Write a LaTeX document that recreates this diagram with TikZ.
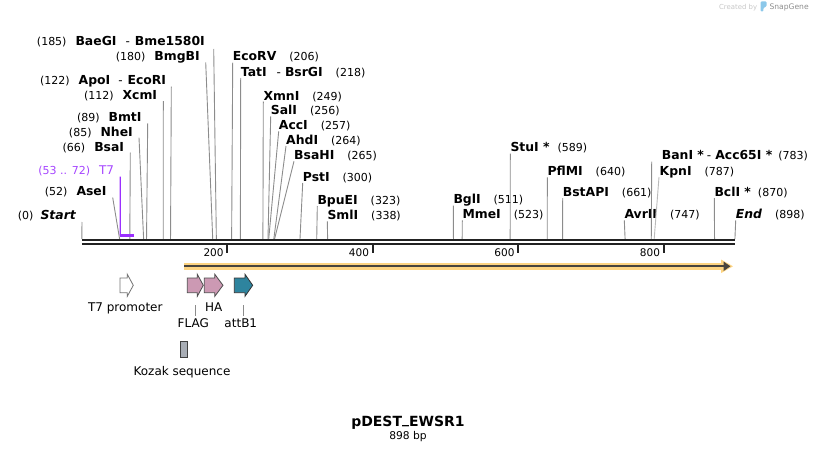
\documentclass[tikz,border=0pt]{standalone}
\usepackage{fontspec}
\setmainfont{DejaVu Sans}[ItalicFont={DejaVu Sans Oblique},BoldFont={DejaVu Sans Bold},BoldItalicFont={DejaVu Sans Bold Oblique}]
\usetikzlibrary{arrows.meta}
\definecolor{siteline}{RGB}{140,140,140}
\definecolor{bbone}{RGB}{34,34,34}
\definecolor{tseven}{RGB}{155,48,255}
\definecolor{orfband}{RGB}{253,212,130}
\definecolor{orfline}{RGB}{72,68,62}
\definecolor{flagpink}{RGB}{204,153,179}
\definecolor{attteal}{RGB}{46,132,158}
\definecolor{kozakgray}{RGB}{168,173,181}
\definecolor{snapblue}{RGB}{140,200,234}
\newcommand{\bpnum}[1]{{\fontsize{11}{13}\selectfont(#1)}}
\newcommand{\enz}[1]{{\fontsize{12.4}{14}\selectfont\bfseries #1}}

\begin{document}
\begin{tikzpicture}[x=1pt,y=-1pt,
    lbl/.style={inner sep=0pt,font=\fontsize{12}{14}\selectfont},
    lblL/.style={lbl,anchor=base east},
    lblR/.style={lbl,anchor=base west},
    cut/.style={draw=siteline,line width=0.9pt},
    bbl/.style={draw=bbone,line width=2.2pt},
    tick/.style={draw=bbone,line width=2pt},
    feat/.style={draw=black!70,line width=0.8pt}]
    \useasboundingbox (0,0) rectangle (818,452);
    % 酶切位点
    \foreach \p in {0,52,53,66,72,85,89,112,122,180,185,206,218,249,256,257,264,265,300,323,338,511,523,589,640,661,747,783,787,870,898}
        \coordinate (s\p) at ({81.8+0.7273*\p},239);
    % 左侧标签
    \node[lblL] (start) at (76,219) {\bpnum{0}\hspace{7pt}\enz{\itshape Start}};
    \draw[cut] ([shift={(6,3)}]start.base east) -- (s0);
    \node[lblL] (aseI) at (106.7,195.7) {\bpnum{52}\hspace{9pt}\enz{AseI}};
    \draw[cut] ([shift={(6,1.8)}]aseI.base east) -- (s52);
    \node[lblL] (bsaI) at (124.3,151) {\bpnum{66}\hspace{9pt}\enz{BsaI}};
    \draw[cut] ([shift={(6,1.7)}]bsaI.base east) -- (s66);
    \node[lblL] (nheI) at (133,136) {\bpnum{85}\hspace{9pt}\enz{NheI}};
    \draw[cut] ([shift={(6,1.7)}]nheI.base east) -- (s85);
    \node[lblL] (bmtI) at (141.7,121.3) {\bpnum{89}\hspace{9pt}\enz{BmtI}};
    \draw[cut] ([shift={(6,2)}]bmtI.base east) -- (s89);
    \node[lblL] (xcmI) at (157.3,99) {\bpnum{112}\hspace{9pt}\enz{XcmI}};
    \draw[cut] ([shift={(6,2)}]xcmI.base east) -- (s112);
    \node[lblL] (apoI) at (166.3,84) {\bpnum{122}\hspace{9pt}\enz{ApoI}\hspace{8pt}-\hspace{5pt}\enz{EcoRI}};
    \draw[cut] ([shift={(5,2.7)}]apoI.base east) -- (s122);
    \node[lblL] (bmgBI) at (200,60.7) {\bpnum{180}\hspace{9pt}\enz{BmgBI}};
    \draw[cut] ([shift={(5.7,1.6)}]bmgBI.base east) -- (s180);
    \node[lblL] (baeGI) at (205,45.7) {\bpnum{185}\hspace{9pt}\enz{BaeGI}\hspace{9pt}-\hspace{5pt}\enz{Bme1580I}};
    \draw[cut] ([shift={(8.7,3.3)}]baeGI.base east) -- (s185);
    % 右侧标签
    \node[lblR] (ecoRV) at (232.7,60.7) {\enz{EcoRV}\hspace{13pt}\bpnum{206}};
    \draw[cut] ([shift={(0,2)}]ecoRV.base west) -- (s206);
    \node[lblR] (tatI) at (240.7,76) {\enz{TatI}\hspace{10pt}-\hspace{4pt}\enz{BsrGI}\hspace{13pt}\bpnum{218}};
    \draw[cut] ([shift={(0,2)}]tatI.base west) -- (s218);
    \node[lblR] (xmnI) at (263.3,100) {\enz{XmnI}\hspace{13pt}\bpnum{249}};
    \draw[cut] ([shift={(0,1.5)}]xmnI.base west) -- (s249);
    \node[lblR] (salI) at (270.7,114.3) {\enz{SalI}\hspace{13pt}\bpnum{256}};
    \draw[cut] ([shift={(0,2)}]salI.base west) -- (s256);
    \node[lblR] (accI) at (278.7,129.3) {\enz{AccI}\hspace{13pt}\bpnum{257}};
    \draw[cut] ([shift={(0,2)}]accI.base west) -- (s257);
    \node[lblR] (ahdI) at (286,144) {\enz{AhdI}\hspace{13pt}\bpnum{264}};
    \draw[cut] ([shift={(0,2)}]ahdI.base west) -- (s264);
    \node[lblR] (bsaHI) at (294,159.3) {\enz{BsaHI}\hspace{13pt}\bpnum{265}};
    \draw[cut] ([shift={(0,2)}]bsaHI.base west) -- (s265);
    \node[lblR] (pstI) at (302.7,181) {\enz{PstI}\hspace{13pt}\bpnum{300}};
    \draw[cut] ([shift={(0,2)}]pstI.base west) -- (s300);
    \node[lblR] (bpuEI) at (317.3,204) {\enz{BpuEI}\hspace{13pt}\bpnum{323}};
    \draw[cut] ([shift={(0,2)}]bpuEI.base west) -- (s323);
    \node[lblR] (smlI) at (327.3,219.3) {\enz{SmlI}\hspace{13pt}\bpnum{338}};
    \draw[cut] ([shift={(0,2)}]smlI.base west) -- (s338);
    \node[lblR] (bglI) at (453.3,203.7) {\enz{BglI}\hspace{13pt}\bpnum{511}};
    \draw[cut] ([shift={(0,2)}]bglI.base west) -- (s511);
    \node[lblR] (mmeI) at (462.3,218.3) {\enz{MmeI}\hspace{13pt}\bpnum{523}};
    \draw[cut] ([shift={(0,2)}]mmeI.base west) -- (s523);
    \node[lblR] (stuI) at (510.3,151.7) {\enz{StuI *}\hspace{8pt}\bpnum{589}};
    \draw[cut] ([shift={(0,2)}]stuI.base west) -- (s589);
    \node[lblR] (pflMI) at (547.3,175.3) {\enz{PflMI}\hspace{13pt}\bpnum{640}};
    \draw[cut] ([shift={(0,2)}]pflMI.base west) -- (s640);
    \node[lblR] (bstAPI) at (562.7,196) {\enz{BstAPI}\hspace{13pt}\bpnum{661}};
    \draw[cut] ([shift={(0,2)}]bstAPI.base west) -- (s661);
    \node[lblR] (avrII) at (624.3,218.3) {\enz{AvrII}\hspace{13pt}\bpnum{747}};
    \draw[cut] ([shift={(0,2)}]avrII.base west) -- (s747);
    \node[lblR] (banI) at (661.7,159.3) {\enz{BanI *}\hspace{3pt}-\hspace{4pt}\enz{Acc65I *}\hspace{6pt}\bpnum{783}};
    \draw[cut] ([shift={(-10,2.4)}]banI.base west) -- (s783);
    \node[lblR] (kpnI) at (659.5,175.3) {\enz{KpnI}\hspace{13pt}\bpnum{787}};
    \draw[cut,draw=siteline!60] ([shift={(-0.5,1.7)}]kpnI.base west) -- (s787);
    \node[lblR] (bclI) at (714.3,196) {\enz{BclI *}\hspace{7pt}\bpnum{870}};
    \draw[cut] ([shift={(0,2)}]bclI.base west) -- (s870);
    \node[lblR] (fin) at (735.7,218.3) {\enz{\itshape End}\hspace{13pt}\bpnum{898}};
    \draw[cut] ([shift={(0,2)}]fin.base west) -- (s898);
    % T7 引物
    \node[lblL,text=tseven!90!white] (t7) at (114.3,174.3) {\bpnum{53 .. 72}\hspace{9pt}T7};
    \draw[draw=tseven,line width=1.3pt] ([shift={(6,2.4)}]t7.base east) -- ([shift={(0,-3.5)}]s53);
    \draw[draw=tseven,line width=2.3pt] ([shift={(-0.6,-3.5)}]s53) -- ([shift={(0,-3.5)}]s72);
    % 主链和刻度
    \draw[bbl] (81.8,240.2) -- (735.2,240.2);
    \draw[bbl] (81.8,244.3) -- (735.2,244.3);
    \foreach \t in {200,400,600,800} {
        \draw[tick] ({81.8+0.7273*\t},245.3) -- ++(0,7.5);
        \node[anchor=base east,inner sep=0pt,font=\fontsize{10.5}{12}\selectfont] (r\t) at ({81.8+0.7273*\t-3.5},256) {\t};
    }
    % ORF
    \draw[draw=orfband,line width=6.5pt] (184,266.3) -- (725,266.3);
    \fill[orfband] (721,259.5) -- (733,266.3) -- (721,273.1) -- cycle;
    \draw[orfline,line width=2.2pt,-{Triangle[length=7pt,width=9pt]}] (184,266.3) -- (730.5,266.3);
    % 特征
    \draw[feat,draw=black!55,fill=white] (120,278) -- (127.3,278) -- (127.3,274.3) -- (133.3,285.3) -- (127.3,296.3) -- (127.3,292.7) -- (120,292.7) -- cycle;
    \draw[feat,fill=flagpink] (187.3,278) -- (197.3,278) -- (197.3,274.3) -- (203.3,285.3) -- (197.3,296.3) -- (197.3,292.7) -- (187.3,292.7) -- cycle;
    \draw[feat,fill=flagpink] (204.3,278) -- (214.8,278) -- (214.8,274.3) -- (223,285.3) -- (214.8,296.3) -- (214.8,292.7) -- (204.3,292.7) -- cycle;
    \draw[feat,draw=black!80,fill=attteal] (234.3,278) -- (245,278) -- (245,274.3) -- (252.7,285.3) -- (245,296.3) -- (245,292.7) -- (234.3,292.7) -- cycle;
    \draw[feat,draw=black!75,fill=kozakgray] (180.3,341.7) rectangle (187.3,357.3);
    \node[lbl,anchor=base] (t7p) at (125.3,311.5) {T7 promoter};
    \node[lbl,anchor=base] (ha) at (213.7,311.5) {HA};
    \node[lbl,anchor=base] (flag) at (193.3,327.7) {FLAG};
    \node[lbl,anchor=base] (attB) at (240.8,327.7) {attB1};
    \node[lbl,anchor=base] (kozak) at (182,375) {Kozak sequence};
    \draw[cut,line width=0.8pt] (flag.north) ++(2,-3) -- ++(0,-11);
    \draw[cut,line width=0.8pt] (attB.north) ++(2.5,-2.6) -- ++(0,-11);
    % 标题
    \node[anchor=base,inner sep=0pt,font=\fontsize{14}{16}\selectfont\bfseries] (title) at (408,426.7) {pDEST\raisebox{2.8pt}{\_}EWSR1};
    \node[anchor=base,inner sep=0pt,font=\fontsize{10.7}{13}\selectfont] (len) at (408,439.3) {898 bp};
    % SnapGene
    \node[anchor=base east,inner sep=0pt,text=black!22,font=\fontsize{6.9}{8}\selectfont] (crt) at (757.3,9.6) {Created by};
    \fill[snapblue,rounded corners=1pt] (760.5,11.5) -- (760.5,1.5) -- (766.5,1.5) -- (766.5,6.5) -- (763.3,8) -- (763.3,11.5) -- cycle;
    \node[anchor=base west,inner sep=0pt,text=black!45,font=\fontsize{7.6}{9}\selectfont] (snap) at (769.3,9.6) {SnapGene};
\end{tikzpicture}
\end{document}
